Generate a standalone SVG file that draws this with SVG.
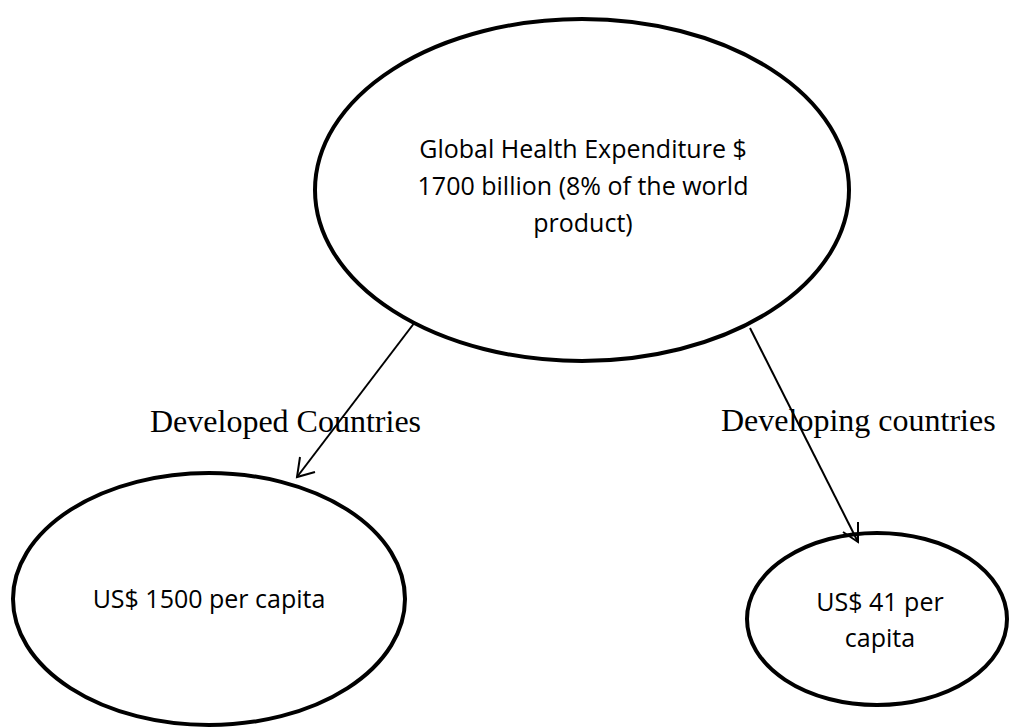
<svg xmlns="http://www.w3.org/2000/svg" width="1009" height="727" viewBox="0 0 1009 727">
<defs>
<style>
.node ellipse{fill:#fff;stroke:#000;stroke-width:4}
.nt{font-family:"Open Sans","Liberation Sans",sans-serif;font-size:25px;fill:#000;text-anchor:middle}
.lbl{font-family:"Liberation Serif","Times New Roman",serif;font-size:32px;fill:#000}
.conn line,.conn polyline{stroke:#000;stroke-width:2;fill:none}
</style>
</defs>
<rect width="1009" height="727" fill="#fff"/>
<g id="node-global" class="node">
<ellipse cx="582" cy="190" rx="267" ry="171"/>
<text class="nt" x="583" y="158">Global Health Expenditure $</text>
<text class="nt" x="583" y="195">1700 billion (8% of the world</text>
<text class="nt" x="583" y="232">product)</text>
</g>
<g id="node-developed" class="node">
<ellipse cx="209" cy="599" rx="196" ry="126"/>
<text class="nt" x="209" y="608">US$ 1500 per capita</text>
</g>
<g id="node-developing" class="node">
<ellipse cx="877" cy="619" rx="130" ry="86"/>
<text class="nt" x="880" y="611">US$ 41 per</text>
<text class="nt" x="880" y="647">capita</text>
</g>
<g id="connectors" class="conn">
<line x1="415" y1="322" x2="297" y2="477"/>
<polyline points="300,457 297,477 315,472"/>
<line x1="750" y1="328" x2="858" y2="542"/>
<polyline points="843,532 858,542 858,522"/>
</g>
<g id="labels">
<text class="lbl" x="150" y="432">Developed Countries</text>
<text class="lbl" x="721" y="431">Developing countries</text>
</g>
</svg>
